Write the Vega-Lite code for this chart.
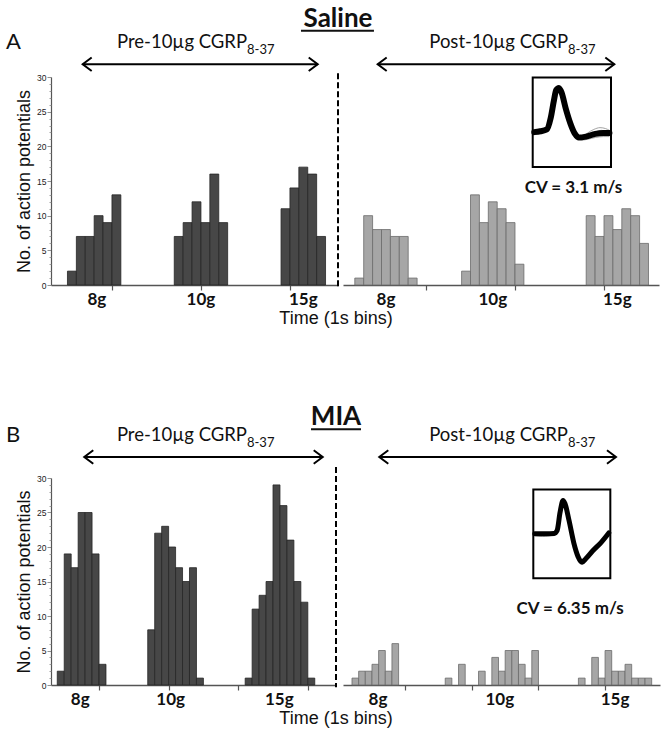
{
  "$schema": "https://vega.github.io/schema/vega-lite/v6.json",
  "padding": {"left": 5, "top": 6, "right": 5, "bottom": 5},
  "background": "white",
  "bounds": "flush",
  "spacing": 401,
  "config": {"view": {"stroke": null}},
  "datasets": {
    "aPre": [
      {"start": 5, "end": 6, "count": 2}, {"start": 6, "end": 7, "count": 7}, {"start": 7, "end": 8, "count": 7}, {"start": 8, "end": 9, "count": 10}, {"start": 9, "end": 10, "count": 9}, {"start": 10, "end": 11, "count": 13},
      {"start": 17, "end": 18, "count": 7}, {"start": 18, "end": 19, "count": 9}, {"start": 19, "end": 20, "count": 12}, {"start": 20, "end": 21, "count": 9}, {"start": 21, "end": 22, "count": 16}, {"start": 22, "end": 23, "count": 9},
      {"start": 29, "end": 30, "count": 11}, {"start": 30, "end": 31, "count": 14}, {"start": 31, "end": 32, "count": 17}, {"start": 32, "end": 33, "count": 16}, {"start": 33, "end": 34, "count": 7}
    ],
    "aPost": [
      {"start": 2, "end": 3, "count": 1}, {"start": 3, "end": 4, "count": 10}, {"start": 4, "end": 5, "count": 8}, {"start": 5, "end": 6, "count": 8}, {"start": 6, "end": 7, "count": 7}, {"start": 7, "end": 8, "count": 7}, {"start": 8, "end": 9, "count": 1},
      {"start": 14, "end": 15, "count": 2}, {"start": 15, "end": 16, "count": 13}, {"start": 16, "end": 17, "count": 9}, {"start": 17, "end": 18, "count": 12}, {"start": 18, "end": 19, "count": 11}, {"start": 19, "end": 20, "count": 9}, {"start": 20, "end": 21, "count": 3},
      {"start": 28, "end": 29, "count": 10}, {"start": 29, "end": 30, "count": 7}, {"start": 30, "end": 31, "count": 10}, {"start": 31, "end": 32, "count": 8}, {"start": 32, "end": 33, "count": 11}, {"start": 33, "end": 34, "count": 10}, {"start": 34, "end": 35, "count": 6}
    ],
    "bPre": [
      {"start": 4, "end": 5, "count": 2}, {"start": 5, "end": 6, "count": 19}, {"start": 6, "end": 7, "count": 17}, {"start": 7, "end": 8, "count": 25}, {"start": 8, "end": 9, "count": 25}, {"start": 9, "end": 10, "count": 19}, {"start": 10, "end": 11, "count": 3},
      {"start": 17, "end": 18, "count": 8}, {"start": 18, "end": 19, "count": 22}, {"start": 19, "end": 20, "count": 23}, {"start": 20, "end": 21, "count": 20}, {"start": 21, "end": 22, "count": 17}, {"start": 22, "end": 23, "count": 15}, {"start": 23, "end": 24, "count": 17}, {"start": 24, "end": 25, "count": 1},
      {"start": 31, "end": 32, "count": 1}, {"start": 32, "end": 33, "count": 11}, {"start": 33, "end": 34, "count": 13}, {"start": 34, "end": 35, "count": 15}, {"start": 35, "end": 36, "count": 29}, {"start": 36, "end": 37, "count": 26}, {"start": 37, "end": 38, "count": 21}, {"start": 38, "end": 39, "count": 15}, {"start": 39, "end": 40, "count": 12}, {"start": 40, "end": 41, "count": 1}
    ],
    "bPost": [
      {"start": 2, "end": 3, "count": 1}, {"start": 3, "end": 4, "count": 2}, {"start": 4, "end": 5, "count": 2}, {"start": 5, "end": 6, "count": 3}, {"start": 6, "end": 7, "count": 5}, {"start": 7, "end": 8, "count": 2}, {"start": 8, "end": 9, "count": 6},
      {"start": 16, "end": 17, "count": 1}, {"start": 18, "end": 19, "count": 3},
      {"start": 21, "end": 22, "count": 2}, {"start": 23, "end": 24, "count": 4}, {"start": 24, "end": 25, "count": 2}, {"start": 25, "end": 26, "count": 5}, {"start": 26, "end": 27, "count": 5}, {"start": 27, "end": 28, "count": 3}, {"start": 28, "end": 29, "count": 1}, {"start": 29, "end": 30, "count": 5},
      {"start": 36, "end": 37, "count": 1}, {"start": 38, "end": 39, "count": 4}, {"start": 39, "end": 40, "count": 1}, {"start": 40, "end": 41, "count": 5}, {"start": 41, "end": 42, "count": 2}, {"start": 42, "end": 43, "count": 2}, {"start": 43, "end": 44, "count": 3}, {"start": 44, "end": 45, "count": 1}, {"start": 45, "end": 46, "count": 1}, {"start": 46, "end": 47, "count": 1}
    ],
    "waveA": [
      {"trace": "main", "wx": 0.02, "wy": 0.39}, {"trace": "main", "wx": 0.10, "wy": 0.40}, {"trace": "main", "wx": 0.18, "wy": 0.42}, {"trace": "main", "wx": 0.23, "wy": 0.55}, {"trace": "main", "wx": 0.27, "wy": 0.74}, {"trace": "main", "wx": 0.30, "wy": 0.86}, {"trace": "main", "wx": 0.335, "wy": 0.885}, {"trace": "main", "wx": 0.37, "wy": 0.83}, {"trace": "main", "wx": 0.42, "wy": 0.66}, {"trace": "main", "wx": 0.48, "wy": 0.49}, {"trace": "main", "wx": 0.54, "wy": 0.37}, {"trace": "main", "wx": 0.59, "wy": 0.33}, {"trace": "main", "wx": 0.68, "wy": 0.34}, {"trace": "main", "wx": 0.80, "wy": 0.37}, {"trace": "main", "wx": 0.90, "wy": 0.38}, {"trace": "main", "wx": 0.98, "wy": 0.38},
      {"trace": "g1", "wx": 0.02, "wy": 0.37}, {"trace": "g1", "wx": 0.12, "wy": 0.385}, {"trace": "g1", "wx": 0.19, "wy": 0.41}, {"trace": "g1", "wx": 0.24, "wy": 0.56}, {"trace": "g1", "wx": 0.28, "wy": 0.77}, {"trace": "g1", "wx": 0.32, "wy": 0.88}, {"trace": "g1", "wx": 0.36, "wy": 0.84}, {"trace": "g1", "wx": 0.42, "wy": 0.64}, {"trace": "g1", "wx": 0.49, "wy": 0.46}, {"trace": "g1", "wx": 0.55, "wy": 0.35}, {"trace": "g1", "wx": 0.62, "wy": 0.33}, {"trace": "g1", "wx": 0.70, "wy": 0.38}, {"trace": "g1", "wx": 0.78, "wy": 0.42}, {"trace": "g1", "wx": 0.86, "wy": 0.44}, {"trace": "g1", "wx": 0.93, "wy": 0.43}, {"trace": "g1", "wx": 0.98, "wy": 0.41},
      {"trace": "g2", "wx": 0.02, "wy": 0.42}, {"trace": "g2", "wx": 0.12, "wy": 0.43}, {"trace": "g2", "wx": 0.20, "wy": 0.45}, {"trace": "g2", "wx": 0.25, "wy": 0.60}, {"trace": "g2", "wx": 0.29, "wy": 0.80}, {"trace": "g2", "wx": 0.33, "wy": 0.87}, {"trace": "g2", "wx": 0.37, "wy": 0.81}, {"trace": "g2", "wx": 0.43, "wy": 0.62}, {"trace": "g2", "wx": 0.50, "wy": 0.45}, {"trace": "g2", "wx": 0.56, "wy": 0.34}, {"trace": "g2", "wx": 0.63, "wy": 0.31}, {"trace": "g2", "wx": 0.72, "wy": 0.35}, {"trace": "g2", "wx": 0.80, "wy": 0.39}, {"trace": "g2", "wx": 0.88, "wy": 0.41}, {"trace": "g2", "wx": 0.98, "wy": 0.37},
      {"trace": "g3", "wx": 0.55, "wy": 0.36}, {"trace": "g3", "wx": 0.62, "wy": 0.30}, {"trace": "g3", "wx": 0.70, "wy": 0.31}, {"trace": "g3", "wx": 0.80, "wy": 0.33}, {"trace": "g3", "wx": 0.90, "wy": 0.34}, {"trace": "g3", "wx": 0.98, "wy": 0.34}
    ],
    "waveB": [
      {"trace": "main", "wx": 0.02, "wy": 0.50}, {"trace": "main", "wx": 0.165, "wy": 0.50}, {"trace": "main", "wx": 0.27, "wy": 0.505}, {"trace": "main", "wx": 0.31, "wy": 0.54}, {"trace": "main", "wx": 0.347, "wy": 0.74}, {"trace": "main", "wx": 0.386, "wy": 0.876}, {"trace": "main", "wx": 0.412, "wy": 0.84}, {"trace": "main", "wx": 0.464, "wy": 0.65}, {"trace": "main", "wx": 0.528, "wy": 0.39}, {"trace": "main", "wx": 0.58, "wy": 0.245}, {"trace": "main", "wx": 0.632, "wy": 0.18}, {"trace": "main", "wx": 0.684, "wy": 0.222}, {"trace": "main", "wx": 0.775, "wy": 0.312}, {"trace": "main", "wx": 0.879, "wy": 0.402}, {"trace": "main", "wx": 0.98, "wy": 0.51},
      {"trace": "g1", "wx": 0.02, "wy": 0.48}, {"trace": "g1", "wx": 0.12, "wy": 0.47}, {"trace": "g1", "wx": 0.26, "wy": 0.49}, {"trace": "g1", "wx": 0.31, "wy": 0.53}, {"trace": "g1", "wx": 0.35, "wy": 0.75}, {"trace": "g1", "wx": 0.39, "wy": 0.87}, {"trace": "g1", "wx": 0.42, "wy": 0.82}, {"trace": "g1", "wx": 0.47, "wy": 0.62}, {"trace": "g1", "wx": 0.53, "wy": 0.37}, {"trace": "g1", "wx": 0.59, "wy": 0.22}, {"trace": "g1", "wx": 0.635, "wy": 0.16}, {"trace": "g1", "wx": 0.69, "wy": 0.20}, {"trace": "g1", "wx": 0.78, "wy": 0.30}, {"trace": "g1", "wx": 0.88, "wy": 0.39}, {"trace": "g1", "wx": 0.98, "wy": 0.50}
    ]
  },
  "vconcat": [
    {
      "bounds": "flush",
      "spacing": 5,
      "hconcat": [
        {
          "width": 287,
          "height": 208,
          "resolve": {"axis": {"y": "independent"}},
          "layer": [
            {
              "layer": [
                {
                  "data": {"name": "aPre"},
                  "mark": {"type": "bar", "fill": "#474747", "stroke": "#262626", "strokeWidth": 0.8},
                  "encoding": {
                    "x": {"field": "start", "type": "quantitative", "scale": {"domain": [3.15, 35.4], "nice": false, "zero": false},
                      "axis": {"values": [10, 20, 30], "labels": false, "tickSize": 5, "title": null, "grid": false, "domainColor": "#555", "domainWidth": 1.5, "tickColor": "#555", "tickWidth": 1.2}},
                    "x2": {"field": "end"},
                    "y": {"field": "count", "type": "quantitative", "scale": {"domain": [0, 30], "nice": false},
                      "axis": {"orient": "left", "tickCount": 6, "tickSize": 4, "labelOverlap": false, "labelFlush": false,
                        "labelFont": "Liberation Sans", "labelFontSize": 8.5, "labelColor": "#222", "labelPadding": 1,
                        "tickColor": "#777", "tickWidth": 0.8, "domainColor": "#555", "domainWidth": 1.2, "grid": false,
                        "title": "No. of action potentials", "titleFont": "Liberation Sans", "titleFontSize": 18, "titleFontWeight": "normal", "titleColor": "#111", "titlePadding": 3}},
                    "y2": {"datum": 0}
                  }
                },
                {
                  "data": {"values": [{"g": "8g", "t": 8.3}, {"g": "10g", "t": 20}, {"g": "15g", "t": 31.5}]},
                  "mark": {"type": "text", "font": "Lato", "fontWeight": "bold", "fontSize": 17, "align": "center", "baseline": "alphabetic", "color": "#111"},
                  "encoding": {
                    "x": {"field": "t", "type": "quantitative", "scale": {"domain": [3.15, 35.4], "nice": false, "zero": false}},
                    "y": {"datum": -2.93, "type": "quantitative", "scale": {"domain": [0, 30], "nice": false}},
                    "text": {"field": "g"}
                  }
                },
                {
                  "data": {"values": [{}]},
                  "mark": {"type": "text", "text": "Time (1s bins)", "font": "Liberation Sans", "fontSize": 18, "align": "center", "baseline": "alphabetic", "color": "#111"},
                  "encoding": {
                    "x": {"datum": 35.18, "type": "quantitative", "scale": {"domain": [3.15, 35.4], "nice": false, "zero": false}},
                    "y": {"datum": -5.67, "type": "quantitative", "scale": {"domain": [0, 30], "nice": false}}
                  }
                },
                {
                  "data": {"values": [{}]},
                  "mark": {"type": "text", "text": "A", "font": "Lato", "fontSize": 22, "align": "left", "baseline": "alphabetic", "color": "#111"},
                  "encoding": {
                    "x": {"datum": -1.907, "type": "quantitative", "scale": {"domain": [3.15, 35.4], "nice": false, "zero": false}},
                    "y": {"datum": 34.04, "type": "quantitative", "scale": {"domain": [0, 30], "nice": false}}
                  }
                },
                {
                  "data": {"values": [{}]},
                  "mark": {"type": "text", "text": "Pre-10µg CGRP", "font": "Lato", "fontSize": 18.5, "align": "right", "baseline": "alphabetic", "color": "#111"},
                  "encoding": {
                    "x": {"datum": 25.18, "type": "quantitative", "scale": {"domain": [3.15, 35.4], "nice": false, "zero": false}},
                    "y": {"datum": 34.14, "type": "quantitative", "scale": {"domain": [0, 30], "nice": false}}
                  }
                },
                {
                  "data": {"values": [{}]},
                  "mark": {"type": "text", "text": "8-37", "font": "Lato", "fontSize": 13, "align": "left", "baseline": "alphabetic", "color": "#111"},
                  "encoding": {
                    "x": {"datum": 25.18, "type": "quantitative", "scale": {"domain": [3.15, 35.4], "nice": false, "zero": false}},
                    "y": {"datum": 33.27, "type": "quantitative", "scale": {"domain": [0, 30], "nice": false}}
                  }
                },
                {
                  "data": {"values": [{}]},
                  "mark": {"type": "rule", "color": "black", "strokeWidth": 2},
                  "encoding": {
                    "x": {"datum": 6.71, "type": "quantitative", "scale": {"domain": [3.15, 35.4], "nice": false, "zero": false}},
                    "x2": {"datum": 33.12},
                    "y": {"datum": 31.83, "type": "quantitative", "scale": {"domain": [0, 30], "nice": false}}
                  }
                },
                {
                  "data": {"values": [{}]},
                  "mark": {"type": "point", "shape": "M 1 -0.75 L 0 0 L 1 0.75", "filled": false, "color": "black", "stroke": "black", "strokeWidth": 2, "size": 324, "opacity": 1},
                  "encoding": {
                    "x": {"datum": 6.71, "type": "quantitative", "scale": {"domain": [3.15, 35.4], "nice": false, "zero": false}},
                    "y": {"datum": 31.83, "type": "quantitative", "scale": {"domain": [0, 30], "nice": false}}
                  }
                },
                {
                  "data": {"values": [{}]},
                  "mark": {"type": "point", "shape": "M -1 -0.75 L 0 0 L -1 0.75", "filled": false, "color": "black", "stroke": "black", "strokeWidth": 2, "size": 324, "opacity": 1},
                  "encoding": {
                    "x": {"datum": 33.12, "type": "quantitative", "scale": {"domain": [3.15, 35.4], "nice": false, "zero": false}},
                    "y": {"datum": 31.83, "type": "quantitative", "scale": {"domain": [0, 30], "nice": false}}
                  }
                },
                {
                  "data": {"values": [{}]},
                  "mark": {"type": "text", "text": "Saline", "font": "Lato", "fontWeight": "bold", "fontSize": 26, "align": "center", "baseline": "alphabetic", "color": "#111"},
                  "encoding": {
                    "x": {"datum": 35.4, "type": "quantitative", "scale": {"domain": [3.15, 35.4], "nice": false, "zero": false}},
                    "y": {"datum": 37.17, "type": "quantitative", "scale": {"domain": [0, 30], "nice": false}}
                  }
                },
                {
                  "data": {"values": [{}]},
                  "mark": {"type": "rule", "color": "#111", "strokeWidth": 2},
                  "encoding": {
                    "x": {"datum": 31.24, "type": "quantitative", "scale": {"domain": [3.15, 35.4], "nice": false, "zero": false}},
                    "x2": {"datum": 39.44},
                    "y": {"datum": 36.66, "type": "quantitative", "scale": {"domain": [0, 30], "nice": false}}
                  }
                }
              ]
            },
            {
              "data": {"values": [{}]},
              "mark": {"type": "rule", "color": "black", "strokeWidth": 2, "strokeDash": [6, 3]},
              "encoding": {
                "x": {"datum": 35.4, "type": "quantitative", "scale": {"domain": [3.15, 35.4], "nice": false, "zero": false}},
                "y": {"datum": 30.53, "type": "quantitative", "scale": {"domain": [0, 30], "nice": false},
                  "axis": {"orient": "left", "values": [0,1,2,3,4,6,7,8,9,11,12,13,14,16,17,18,19,21,22,23,24,26,27,28,29], "labels": false, "tickSize": 2, "domain": false, "title": null, "grid": false, "tickColor": "#888", "tickWidth": 0.8}},
                "y2": {"datum": -0.33}
              }
            }
          ]
        },
        {
          "width": 316,
          "height": 208,
          "resolve": {"scale": {"x": "independent", "y": "independent"}},
          "layer": [
            {
              "layer": [
                {
                  "data": {"name": "aPost"},
                  "mark": {"type": "bar", "fill": "#a6a6a6", "stroke": "#6b6b6b", "strokeWidth": 0.8},
                  "encoding": {
                    "x": {"field": "start", "type": "quantitative", "scale": {"domain": [0.674, 36.18], "nice": false, "zero": false},
                      "axis": {"values": [10, 20, 30], "labels": false, "tickSize": 5, "title": null, "grid": false, "domainColor": "#555", "domainWidth": 1.5, "tickColor": "#555", "tickWidth": 1.2}},
                    "x2": {"field": "end"},
                    "y": {"field": "count", "type": "quantitative", "scale": {"domain": [0, 30], "nice": false}, "axis": null},
                    "y2": {"datum": 0}
                  }
                },
                {
                  "data": {"values": [{"g": "8g", "t": 5.5}, {"g": "10g", "t": 17.5}, {"g": "15g", "t": 31.5}]},
                  "mark": {"type": "text", "font": "Lato", "fontWeight": "bold", "fontSize": 17, "align": "center", "baseline": "alphabetic", "color": "#111"},
                  "encoding": {
                    "x": {"field": "t", "type": "quantitative", "scale": {"domain": [0.674, 36.18], "nice": false, "zero": false}},
                    "y": {"datum": -2.93, "type": "quantitative", "scale": {"domain": [0, 30], "nice": false}},
                    "text": {"field": "g"}
                  }
                },
                {
                  "data": {"values": [{}]},
                  "mark": {"type": "text", "text": "Post-10µg CGRP", "font": "Lato", "fontSize": 18.5, "align": "right", "baseline": "alphabetic", "color": "#111"},
                  "encoding": {
                    "x": {"datum": 25.96, "type": "quantitative", "scale": {"domain": [0.674, 36.18], "nice": false, "zero": false}},
                    "y": {"datum": 34.14, "type": "quantitative", "scale": {"domain": [0, 30], "nice": false}}
                  }
                },
                {
                  "data": {"values": [{}]},
                  "mark": {"type": "text", "text": "8-37", "font": "Lato", "fontSize": 13, "align": "left", "baseline": "alphabetic", "color": "#111"},
                  "encoding": {
                    "x": {"datum": 25.96, "type": "quantitative", "scale": {"domain": [0.674, 36.18], "nice": false, "zero": false}},
                    "y": {"datum": 33.27, "type": "quantitative", "scale": {"domain": [0, 30], "nice": false}}
                  }
                },
                {
                  "data": {"values": [{}]},
                  "mark": {"type": "rule", "color": "black", "strokeWidth": 2},
                  "encoding": {
                    "x": {"datum": 4.57, "type": "quantitative", "scale": {"domain": [0.674, 36.18], "nice": false, "zero": false}},
                    "x2": {"datum": 31.16},
                    "y": {"datum": 31.83, "type": "quantitative", "scale": {"domain": [0, 30], "nice": false}}
                  }
                },
                {
                  "data": {"values": [{}]},
                  "mark": {"type": "point", "shape": "M 1 -0.75 L 0 0 L 1 0.75", "filled": false, "color": "black", "stroke": "black", "strokeWidth": 2, "size": 324, "opacity": 1},
                  "encoding": {
                    "x": {"datum": 4.57, "type": "quantitative", "scale": {"domain": [0.674, 36.18], "nice": false, "zero": false}},
                    "y": {"datum": 31.83, "type": "quantitative", "scale": {"domain": [0, 30], "nice": false}}
                  }
                },
                {
                  "data": {"values": [{}]},
                  "mark": {"type": "point", "shape": "M -1 -0.75 L 0 0 L -1 0.75", "filled": false, "color": "black", "stroke": "black", "strokeWidth": 2, "size": 324, "opacity": 1},
                  "encoding": {
                    "x": {"datum": 31.16, "type": "quantitative", "scale": {"domain": [0.674, 36.18], "nice": false, "zero": false}},
                    "y": {"datum": 31.83, "type": "quantitative", "scale": {"domain": [0, 30], "nice": false}}
                  }
                }
              ]
            },
            {
              "layer": [
                {
                  "data": {"values": [{}]},
                  "mark": {"type": "rect", "filled": false, "stroke": "black", "strokeWidth": 2},
                  "encoding": {
                    "x": {"datum": 0, "type": "quantitative", "scale": {"domain": [-2.423, 1.613], "nice": false, "zero": false}, "axis": null},
                    "x2": {"datum": 1},
                    "y": {"datum": 0, "type": "quantitative", "scale": {"domain": [-1.32, 1.0067], "nice": false, "zero": false}, "axis": null},
                    "y2": {"datum": 1}
                  }
                },
                {
                  "data": {"name": "waveA"},
                  "transform": [{"filter": "datum.trace !== 'main'"}],
                  "mark": {"type": "line", "color": "#8a8a8a", "strokeWidth": 0.8, "interpolate": "monotone"},
                  "encoding": {
                    "x": {"field": "wx", "type": "quantitative", "scale": {"domain": [-2.423, 1.613], "nice": false, "zero": false}, "axis": null},
                    "y": {"field": "wy", "type": "quantitative", "scale": {"domain": [-1.32, 1.0067], "nice": false, "zero": false}, "axis": null},
                    "detail": {"field": "trace"}
                  }
                },
                {
                  "data": {"name": "waveA"},
                  "transform": [{"filter": "datum.trace === 'main'"}],
                  "mark": {"type": "line", "color": "black", "strokeWidth": 6, "interpolate": "monotone", "strokeCap": "round", "strokeJoin": "round"},
                  "encoding": {
                    "x": {"field": "wx", "type": "quantitative", "scale": {"domain": [-2.423, 1.613], "nice": false, "zero": false}, "axis": null},
                    "y": {"field": "wy", "type": "quantitative", "scale": {"domain": [-1.32, 1.0067], "nice": false, "zero": false}, "axis": null}
                  }
                },
                {
                  "data": {"values": [{}]},
                  "mark": {"type": "text", "text": "CV = 3.1 m/s", "font": "Lato", "fontWeight": "bold", "fontSize": 17, "align": "center", "baseline": "middle", "color": "#111"},
                  "encoding": {
                    "x": {"datum": 0.521, "type": "quantitative", "scale": {"domain": [-2.423, 1.613], "nice": false, "zero": false}, "axis": null},
                    "y": {"datum": -0.238, "type": "quantitative", "scale": {"domain": [-1.32, 1.0067], "nice": false, "zero": false}, "axis": null}
                  }
                }
              ]
            }
          ]
        }
      ]
    },
    {
      "bounds": "flush",
      "spacing": 7,
      "hconcat": [
        {
          "width": 285,
          "height": 207,
          "resolve": {"axis": {"y": "independent"}},
          "layer": [
            {
              "layer": [
                {
                  "data": {"name": "bPre"},
                  "mark": {"type": "bar", "fill": "#474747", "stroke": "#262626", "strokeWidth": 0.8},
                  "encoding": {
                    "x": {"field": "start", "type": "quantitative", "scale": {"domain": [3.1, 44.05], "nice": false, "zero": false},
                      "axis": {"values": [10, 20, 30, 40], "labels": false, "tickSize": 5, "title": null, "grid": false, "domainColor": "#555", "domainWidth": 1.5, "tickColor": "#555", "tickWidth": 1.2}},
                    "x2": {"field": "end"},
                    "y": {"field": "count", "type": "quantitative", "scale": {"domain": [0, 30], "nice": false},
                      "axis": {"orient": "left", "tickCount": 6, "tickSize": 4, "labelOverlap": false, "labelFlush": false,
                        "labelFont": "Liberation Sans", "labelFontSize": 8.5, "labelColor": "#222", "labelPadding": 1,
                        "tickColor": "#777", "tickWidth": 0.8, "domainColor": "#555", "domainWidth": 1.2, "grid": false,
                        "title": "No. of action potentials", "titleFont": "Liberation Sans", "titleFontSize": 18, "titleFontWeight": "normal", "titleColor": "#111", "titlePadding": 3}},
                    "y2": {"datum": 0}
                  }
                },
                {
                  "data": {"values": [{"g": "8g", "t": 7.3}, {"g": "10g", "t": 20.3}, {"g": "15g", "t": 35.9}]},
                  "mark": {"type": "text", "font": "Lato", "fontWeight": "bold", "fontSize": 17, "align": "center", "baseline": "alphabetic", "color": "#111"},
                  "encoding": {
                    "x": {"field": "t", "type": "quantitative", "scale": {"domain": [3.1, 44.05], "nice": false, "zero": false}},
                    "y": {"datum": -2.94, "type": "quantitative", "scale": {"domain": [0, 30], "nice": false}},
                    "text": {"field": "g"}
                  }
                },
                {
                  "data": {"values": [{}]},
                  "mark": {"type": "text", "text": "Time (1s bins)", "font": "Liberation Sans", "fontSize": 18, "align": "center", "baseline": "alphabetic", "color": "#111"},
                  "encoding": {
                    "x": {"datum": 44.05, "type": "quantitative", "scale": {"domain": [3.1, 44.05], "nice": false, "zero": false}},
                    "y": {"datum": -5.7, "type": "quantitative", "scale": {"domain": [0, 30], "nice": false}}
                  }
                },
                {
                  "data": {"values": [{}]},
                  "mark": {"type": "text", "text": "B", "font": "Lato", "fontSize": 22, "align": "left", "baseline": "alphabetic", "color": "#111"},
                  "encoding": {
                    "x": {"datum": -3.366, "type": "quantitative", "scale": {"domain": [3.1, 44.05], "nice": false, "zero": false}},
                    "y": {"datum": 35.22, "type": "quantitative", "scale": {"domain": [0, 30], "nice": false}}
                  }
                },
                {
                  "data": {"values": [{}]},
                  "mark": {"type": "text", "text": "Pre-10µg CGRP", "font": "Lato", "fontSize": 18.5, "align": "right", "baseline": "alphabetic", "color": "#111"},
                  "encoding": {
                    "x": {"datum": 31.26, "type": "quantitative", "scale": {"domain": [3.1, 44.05], "nice": false, "zero": false}},
                    "y": {"datum": 35.36, "type": "quantitative", "scale": {"domain": [0, 30], "nice": false}}
                  }
                },
                {
                  "data": {"values": [{}]},
                  "mark": {"type": "text", "text": "8-37", "font": "Lato", "fontSize": 13, "align": "left", "baseline": "alphabetic", "color": "#111"},
                  "encoding": {
                    "x": {"datum": 31.26, "type": "quantitative", "scale": {"domain": [3.1, 44.05], "nice": false, "zero": false}},
                    "y": {"datum": 34.49, "type": "quantitative", "scale": {"domain": [0, 30], "nice": false}}
                  }
                },
                {
                  "data": {"values": [{}]},
                  "mark": {"type": "rule", "color": "black", "strokeWidth": 2},
                  "encoding": {
                    "x": {"datum": 7.88, "type": "quantitative", "scale": {"domain": [3.1, 44.05], "nice": false, "zero": false}},
                    "x2": {"datum": 42.14},
                    "y": {"datum": 33.04, "type": "quantitative", "scale": {"domain": [0, 30], "nice": false}}
                  }
                },
                {
                  "data": {"values": [{}]},
                  "mark": {"type": "point", "shape": "M 1 -0.75 L 0 0 L 1 0.75", "filled": false, "color": "black", "stroke": "black", "strokeWidth": 2, "size": 324, "opacity": 1},
                  "encoding": {
                    "x": {"datum": 7.88, "type": "quantitative", "scale": {"domain": [3.1, 44.05], "nice": false, "zero": false}},
                    "y": {"datum": 33.04, "type": "quantitative", "scale": {"domain": [0, 30], "nice": false}}
                  }
                },
                {
                  "data": {"values": [{}]},
                  "mark": {"type": "point", "shape": "M -1 -0.75 L 0 0 L -1 0.75", "filled": false, "color": "black", "stroke": "black", "strokeWidth": 2, "size": 324, "opacity": 1},
                  "encoding": {
                    "x": {"datum": 42.14, "type": "quantitative", "scale": {"domain": [3.1, 44.05], "nice": false, "zero": false}},
                    "y": {"datum": 33.04, "type": "quantitative", "scale": {"domain": [0, 30], "nice": false}}
                  }
                },
                {
                  "data": {"values": [{}]},
                  "mark": {"type": "text", "text": "MIA", "font": "Lato", "fontWeight": "bold", "fontSize": 26, "align": "center", "baseline": "alphabetic", "color": "#111"},
                  "encoding": {
                    "x": {"datum": 44.05, "type": "quantitative", "scale": {"domain": [3.1, 44.05], "nice": false, "zero": false}},
                    "y": {"datum": 37.64, "type": "quantitative", "scale": {"domain": [0, 30], "nice": false}}
                  }
                },
                {
                  "data": {"values": [{}]},
                  "mark": {"type": "rule", "color": "#111", "strokeWidth": 2},
                  "encoding": {
                    "x": {"datum": 40.46, "type": "quantitative", "scale": {"domain": [3.1, 44.05], "nice": false, "zero": false}},
                    "x2": {"datum": 47.64},
                    "y": {"datum": 37.06, "type": "quantitative", "scale": {"domain": [0, 30], "nice": false}}
                  }
                }
              ]
            },
            {
              "data": {"values": [{}]},
              "mark": {"type": "rule", "color": "black", "strokeWidth": 2, "strokeDash": [6, 3]},
              "encoding": {
                "x": {"datum": 44.05, "type": "quantitative", "scale": {"domain": [3.1, 44.05], "nice": false, "zero": false}},
                "y": {"datum": 31.6, "type": "quantitative", "scale": {"domain": [0, 30], "nice": false},
                  "axis": {"orient": "left", "values": [0,1,2,3,4,6,7,8,9,11,12,13,14,16,17,18,19,21,22,23,24,26,27,28,29], "labels": false, "tickSize": 2, "domain": false, "title": null, "grid": false, "tickColor": "#888", "tickWidth": 0.8}},
                "y2": {"datum": -0.32}
              }
            }
          ]
        },
        {
          "width": 317,
          "height": 207,
          "resolve": {"scale": {"x": "independent", "y": "independent"}},
          "layer": [
            {
              "layer": [
                {
                  "data": {"name": "bPost"},
                  "mark": {"type": "bar", "fill": "#a6a6a6", "stroke": "#6b6b6b", "strokeWidth": 0.8},
                  "encoding": {
                    "x": {"field": "start", "type": "quantitative", "scale": {"domain": [0.65, 48.25], "nice": false, "zero": false},
                      "axis": {"values": [10, 20, 30, 40], "labels": false, "tickSize": 5, "title": null, "grid": false, "domainColor": "#555", "domainWidth": 1.5, "tickColor": "#555", "tickWidth": 1.2}},
                    "x2": {"field": "end"},
                    "y": {"field": "count", "type": "quantitative", "scale": {"domain": [0, 30], "nice": false}, "axis": null},
                    "y2": {"datum": 0}
                  }
                },
                {
                  "data": {"values": [{"g": "8g", "t": 5.9}, {"g": "10g", "t": 24.2}, {"g": "15g", "t": 41.5}]},
                  "mark": {"type": "text", "font": "Lato", "fontWeight": "bold", "fontSize": 17, "align": "center", "baseline": "alphabetic", "color": "#111"},
                  "encoding": {
                    "x": {"field": "t", "type": "quantitative", "scale": {"domain": [0.65, 48.25], "nice": false, "zero": false}},
                    "y": {"datum": -2.94, "type": "quantitative", "scale": {"domain": [0, 30], "nice": false}},
                    "text": {"field": "g"}
                  }
                },
                {
                  "data": {"values": [{}]},
                  "mark": {"type": "text", "text": "Post-10µg CGRP", "font": "Lato", "fontSize": 18.5, "align": "right", "baseline": "alphabetic", "color": "#111"},
                  "encoding": {
                    "x": {"datum": 34.43, "type": "quantitative", "scale": {"domain": [0.65, 48.25], "nice": false, "zero": false}},
                    "y": {"datum": 35.36, "type": "quantitative", "scale": {"domain": [0, 30], "nice": false}}
                  }
                },
                {
                  "data": {"values": [{}]},
                  "mark": {"type": "text", "text": "8-37", "font": "Lato", "fontSize": 13, "align": "left", "baseline": "alphabetic", "color": "#111"},
                  "encoding": {
                    "x": {"datum": 34.43, "type": "quantitative", "scale": {"domain": [0.65, 48.25], "nice": false, "zero": false}},
                    "y": {"datum": 34.49, "type": "quantitative", "scale": {"domain": [0, 30], "nice": false}}
                  }
                },
                {
                  "data": {"values": [{}]},
                  "mark": {"type": "rule", "color": "black", "strokeWidth": 2},
                  "encoding": {
                    "x": {"datum": 6.1, "type": "quantitative", "scale": {"domain": [0.65, 48.25], "nice": false, "zero": false}},
                    "x2": {"datum": 41.64},
                    "y": {"datum": 33.04, "type": "quantitative", "scale": {"domain": [0, 30], "nice": false}}
                  }
                },
                {
                  "data": {"values": [{}]},
                  "mark": {"type": "point", "shape": "M 1 -0.75 L 0 0 L 1 0.75", "filled": false, "color": "black", "stroke": "black", "strokeWidth": 2, "size": 324, "opacity": 1},
                  "encoding": {
                    "x": {"datum": 6.1, "type": "quantitative", "scale": {"domain": [0.65, 48.25], "nice": false, "zero": false}},
                    "y": {"datum": 33.04, "type": "quantitative", "scale": {"domain": [0, 30], "nice": false}}
                  }
                },
                {
                  "data": {"values": [{}]},
                  "mark": {"type": "point", "shape": "M -1 -0.75 L 0 0 L -1 0.75", "filled": false, "color": "black", "stroke": "black", "strokeWidth": 2, "size": 324, "opacity": 1},
                  "encoding": {
                    "x": {"datum": 41.64, "type": "quantitative", "scale": {"domain": [0.65, 48.25], "nice": false, "zero": false}},
                    "y": {"datum": 33.04, "type": "quantitative", "scale": {"domain": [0, 30], "nice": false}}
                  }
                }
              ]
            },
            {
              "layer": [
                {
                  "data": {"values": [{}]},
                  "mark": {"type": "rect", "filled": false, "stroke": "black", "strokeWidth": 2},
                  "encoding": {
                    "x": {"datum": 0, "type": "quantitative", "scale": {"domain": [-2.471, 1.645], "nice": false, "zero": false}, "axis": null},
                    "x2": {"datum": 1},
                    "y": {"datum": 0, "type": "quantitative", "scale": {"domain": [-1.204, 1.1297], "nice": false, "zero": false}, "axis": null},
                    "y2": {"datum": 1}
                  }
                },
                {
                  "data": {"name": "waveB"},
                  "transform": [{"filter": "datum.trace !== 'main'"}],
                  "mark": {"type": "line", "color": "#8a8a8a", "strokeWidth": 0.8, "interpolate": "monotone"},
                  "encoding": {
                    "x": {"field": "wx", "type": "quantitative", "scale": {"domain": [-2.471, 1.645], "nice": false, "zero": false}, "axis": null},
                    "y": {"field": "wy", "type": "quantitative", "scale": {"domain": [-1.204, 1.1297], "nice": false, "zero": false}, "axis": null},
                    "detail": {"field": "trace"}
                  }
                },
                {
                  "data": {"name": "waveB"},
                  "transform": [{"filter": "datum.trace === 'main'"}],
                  "mark": {"type": "line", "color": "black", "strokeWidth": 5, "interpolate": "monotone", "strokeCap": "round", "strokeJoin": "round"},
                  "encoding": {
                    "x": {"field": "wx", "type": "quantitative", "scale": {"domain": [-2.471, 1.645], "nice": false, "zero": false}, "axis": null},
                    "y": {"field": "wy", "type": "quantitative", "scale": {"domain": [-1.204, 1.1297], "nice": false, "zero": false}, "axis": null}
                  }
                },
                {
                  "data": {"values": [{}]},
                  "mark": {"type": "text", "text": "CV = 6.35 m/s", "font": "Lato", "fontWeight": "bold", "fontSize": 17, "align": "center", "baseline": "middle", "color": "#111"},
                  "encoding": {
                    "x": {"datum": 0.477, "type": "quantitative", "scale": {"domain": [-2.471, 1.645], "nice": false, "zero": false}, "axis": null},
                    "y": {"datum": -0.342, "type": "quantitative", "scale": {"domain": [-1.204, 1.1297], "nice": false, "zero": false}, "axis": null}
                  }
                }
              ]
            }
          ]
        }
      ]
    }
  ]
}
